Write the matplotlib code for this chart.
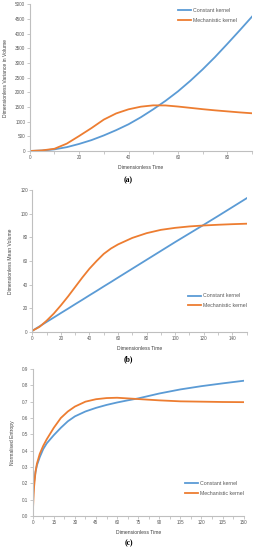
import matplotlib
matplotlib.use("Agg")
import matplotlib.pyplot as plt
from matplotlib.ticker import MultipleLocator, FormatStrFormatter

plt.rcParams["font.family"] = ["Liberation Sans", "DejaVu Sans"]

# ---------------- data ----------------
labels = ["Constant kernel", "Mechanistic kernel"]
colors = ["#5B9BD5", "#ED7D31"]

# (a) variance in volume
t_a = [0, 5, 10, 15, 20, 25, 30, 35, 40, 45, 50, 55, 60, 65, 70, 75, 80, 85, 90]
var_const = [0, 15, 55, 130, 240, 370, 530, 710, 910, 1150, 1420, 1710, 2030, 2390, 2780, 3200, 3650, 4110, 4580]
var_mech = [0, 20, 75, 250, 510, 780, 1070, 1280, 1420, 1510, 1555, 1552, 1515, 1470, 1425, 1385, 1350, 1315, 1285]

# (b) mean volume
t_b = [0, 5, 10, 15, 20, 25, 30, 35, 40, 45, 50, 55, 60, 70, 80, 90, 100, 110, 120, 130, 140, 150]
mean_const = [1, 4.7, 8.5, 12.2, 16, 19.7, 23.5, 27.2, 31, 34.7, 38.5, 42.2, 46, 53.5, 61, 68.5, 76, 83.3, 90.6, 98, 105.5, 113]
mean_mech = [1, 4.3, 9.5, 15.5, 22.5, 30, 38, 46, 53.5, 60, 66, 70.5, 74, 79.5, 83.5, 86.3, 88, 89.2, 90, 90.6, 91.1, 91.5]

# (c) normalised entropy
t_c = [0, 0.5, 1, 2, 3, 5, 7.5, 10, 15, 20, 25, 30, 37.5, 45, 52.5, 60, 67.5, 75, 90, 105, 120, 135, 150]
ent_const = [0.10, 0.17, 0.21, 0.27, 0.31, 0.36, 0.41, 0.445, 0.495, 0.54, 0.58, 0.61, 0.64, 0.662, 0.68, 0.695, 0.708, 0.72, 0.75, 0.775, 0.795, 0.812, 0.828]
ent_mech = [0.0, 0.10, 0.18, 0.27, 0.32, 0.38, 0.43, 0.47, 0.54, 0.60, 0.64, 0.67, 0.70, 0.715, 0.722, 0.724, 0.72, 0.716, 0.708, 0.702, 0.70, 0.698, 0.697]

TICK_C = "#595959"
SPINE_C = "#BFBFBF"
FS_TICK = 3.3
FS_LAB = 3.6
FS_LEG = 3.8
LW = 1.3

fig = plt.figure(figsize=(2.57, 5.50), dpi=100)


def style(ax, xlim, ylim, xmaj, xmin, ymaj, xlabel, ylabel, ylabelpad, yfmt=None):
    ax.set_xlim(*xlim)
    ax.set_ylim(*ylim)
    for s in ["top", "right"]:
        ax.spines[s].set_visible(False)
    for s in ["left", "bottom"]:
        ax.spines[s].set_color(SPINE_C)
        ax.spines[s].set_linewidth(0.8)
    ax.xaxis.set_major_locator(MultipleLocator(xmaj))
    ax.xaxis.set_minor_locator(MultipleLocator(xmin))
    ax.yaxis.set_major_locator(MultipleLocator(ymaj))
    ax.tick_params(axis="both", which="both", direction="out", colors=SPINE_C,
                   labelcolor=TICK_C, labelsize=FS_TICK, width=0.6, pad=1.2)
    ax.tick_params(axis="both", which="major", length=2.0)
    ax.tick_params(axis="x", which="minor", length=2.0)
    ax.set_xlabel(xlabel, fontsize=FS_LAB, color="#404040", labelpad=3)
    ax.set_ylabel(ylabel, fontsize=FS_LAB, color="#404040", labelpad=ylabelpad)
    if yfmt:
        ax.yaxis.set_major_formatter(yfmt)


def legend(ax, anchor):
    ax.legend(loc="upper left", bbox_to_anchor=anchor, frameon=False,
              fontsize=FS_LEG, handlelength=2.4, handletextpad=0.5,
              labelspacing=0.9, borderpad=0, borderaxespad=0,
              labelcolor=TICK_C)


def label_panel(text, y):
    fig.text(0.5, y, text, ha="center", va="center",
             fontsize=5.5, family="Liberation Serif", weight="bold")


# ---- (a)
ax1 = fig.add_axes([0.1156, 0.7255, 0.865, 0.2667])
ax1.plot(t_a, var_const, color=colors[0], lw=LW, label=labels[0])
ax1.plot(t_a, var_mech, color=colors[1], lw=LW, label=labels[1])
style(ax1, (0, 90), (0, 5000), 20, 10, 500, "Dimensionless Time",
      "Dimensionless Variance in Volume", 5)
legend(ax1, (0.667, 0.975))
label_panel("(a)", 1 - 180 / 550)

# ---- (b)
ax2 = fig.add_axes([0.1257, 0.3964, 0.834, 0.2582])
ax2.plot(t_b, mean_const, color=colors[0], lw=LW, label=labels[0])
ax2.plot(t_b, mean_mech, color=colors[1], lw=LW, label=labels[1])
style(ax2, (0, 150), (0, 120), 20, 10, 20, "Dimensionless Time",
      "Dimensionless Mean Volume", 5)
legend(ax2, (0.726, 0.272))
label_panel("(b)", 1 - 359 / 550)

# ---- (c)
ax3 = fig.add_axes([0.1272, 0.0618, 0.821, 0.2673])
ax3.plot(t_c, ent_const, color=colors[0], lw=LW, label=labels[0])
ax3.plot(t_c, ent_mech, color=colors[1], lw=LW, label=labels[1])
style(ax3, (0, 150), (0, 0.9), 15, 7.5, 0.1, "Dimensionless Time",
      "Normalised Entropy", 5, yfmt=FormatStrFormatter("%.1f"))
legend(ax3, (0.722, 0.236))
label_panel("(c)", 1 - 543 / 550)

fig.savefig("out.png", dpi=100)
